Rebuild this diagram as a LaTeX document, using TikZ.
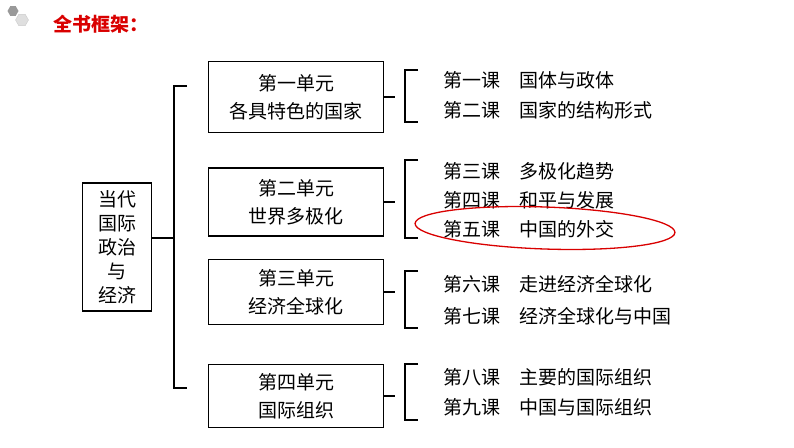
\documentclass[tikz,border=0pt]{standalone}
\usepackage{fontspec}
\setmainfont{Noto Sans CJK SC}
\usetikzlibrary{shapes.geometric}
\begin{document}
\begin{tikzpicture}[x=1pt,y=-1pt,
  ubox/.style={draw,line width=1.2pt,minimum width=175pt,minimum height=68pt,align=center,font=\fontsize{19}{28}\selectfont},
  les/.style={anchor=west,font=\fontsize{19}{22}\selectfont},
  br/.style={line width=1.1pt}]
\useasboundingbox (0,0) rectangle (794,447);
\node[regular polygon,regular polygon sides=6,fill=gray!80,minimum size=11pt,inner sep=0] (h1) at (13,11) {};
\node[regular polygon,regular polygon sides=6,draw=gray!40,fill=gray!25,minimum size=13pt,inner sep=0] (h2) at (22,20) {};
\node[anchor=west,text=red!85!black,font=\fontsize{19}{20}\selectfont\bfseries] (title) at (50,24) {全书框架：};
\node[draw,line width=1.2pt,minimum width=69pt,minimum height=128pt,align=center,font=\fontsize{19}{24}\selectfont] (root) at (117,247) {当代\\国际\\政治\\与\\经济};
\node[ubox,minimum height=71pt] (u1) at (296,97) {第一单元\\各具特色的国家};
\node[ubox] (u2) at (296,202) {第二单元\\世界多极化};
\node[ubox,minimum height=65pt] (u3) at (296,292) {第三单元\\经济全球化};
\node[ubox,minimum height=63pt] (u4) at (296,396) {第四单元\\国际组织};
\coordinate (bt) at (174,86); \coordinate (bb) at (174,388); \coordinate (bm) at (174,238);
\draw[br] (root.east |- bm) -- (bm);
\draw[br] (187,86) -- (bt) -- (bb) -- (187,388);
\foreach \u/\a/\b in {u1/70/122, u2/160/238, u3/271/328, u4/364/420}{
  \draw[br] (\u.east) -- ++(11,0);
  \draw[br] (418,\a) -- (405,\a) -- (405,\b) -- (418,\b);
}
\node[les] (l1) at (440,80) {第一课\hspace{1em}国体与政体};
\node[les] (l2) at (440,110) {第二课\hspace{1em}国家的结构形式};
\node[les] (l3) at (440,171) {第三课\hspace{1em}多极化趋势};
\node[les] (l4) at (440,200) {第四课\hspace{1em}和平与发展};
\node[les] (l5) at (440,229) {第五课\hspace{1em}中国的外交};
\node[les] (l6) at (440,284) {第六课\hspace{1em}走进经济全球化};
\node[les] (l7) at (440,316) {第七课\hspace{1em}经济全球化与中国};
\node[les] (l8) at (440,377) {第八课\hspace{1em}主要的国际组织};
\node[les] (l9) at (440,407) {第九课\hspace{1em}中国与国际组织};
\draw[red!85!black,line width=1.3pt,rotate around={-2:(545,228)}] (545,228) ellipse [x radius=130, y radius=21];
\end{tikzpicture}
\end{document}
